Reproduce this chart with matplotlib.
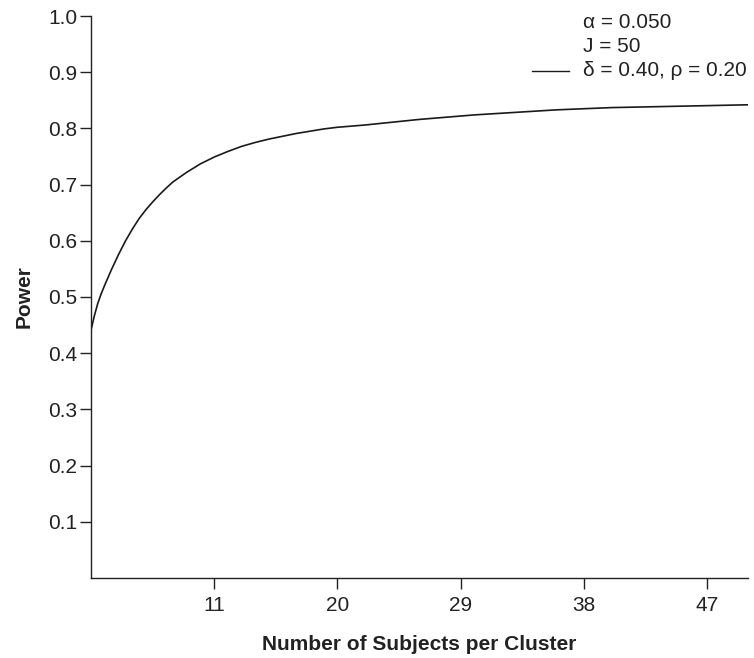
import matplotlib
matplotlib.use("Agg")
import matplotlib.pyplot as plt

# subjects per cluster vs. power
n_per_cluster = [2, 2.25, 2.5, 2.75, 3, 3.5, 4, 4.5, 5, 5.5, 6, 6.5, 7, 7.5, 8, 9, 10,
                 11, 12, 13, 14, 15, 16, 17, 18, 19, 20,
                 22, 24, 26, 28, 30, 32, 34, 36, 38, 40, 42, 44, 46, 48, 50]
power = [0.441, 0.467, 0.489, 0.506, 0.521, 0.549, 0.575, 0.599, 0.620, 0.639, 0.655, 0.669,
         0.682, 0.694, 0.705, 0.722, 0.737,
         0.749, 0.759, 0.768, 0.775, 0.781, 0.786, 0.791, 0.795, 0.799, 0.802,
         0.806, 0.811, 0.816, 0.820, 0.824, 0.827, 0.830, 0.833, 0.835, 0.837, 0.838,
         0.839, 0.840, 0.841, 0.842]

x_ticks = [11, 20, 29, 38, 47]
y_ticks = [0.1, 0.2, 0.3, 0.4, 0.5, 0.6, 0.7, 0.8, 0.9, 1.0]
legend_lines = ["\u03b1 = 0.050", "J = 50", "\u03b4 = 0.40, \u03c1 = 0.20"]

plt.rcParams['font.family'] = ['Liberation Sans', 'DejaVu Sans']
FS = 15

fig = plt.figure(figsize=(7.54, 6.58), dpi=100)
ax = fig.add_axes([91 / 754, 1 - 578 / 658, (748 - 91) / 754, (578 - 16) / 658])

ax.plot(n_per_cluster, power, color='#1a1a1a', lw=1.2)

ax.set_xlim(2, 50)
ax.set_ylim(0, 1.0)
ax.set_xticks(x_ticks)
ax.set_yticks(y_ticks)
ax.set_yticklabels([f"{v:.1f}" for v in y_ticks])

for s in ['top', 'right']:
    ax.spines[s].set_visible(False)
for s in ['left', 'bottom']:
    ax.spines[s].set_color('#222222')
    ax.spines[s].set_linewidth(1.0)

ax.tick_params(axis='both', direction='out', length=8, width=1.0, color='#222222',
               labelsize=FS, labelcolor='#222222')
ax.tick_params(axis='y', pad=2)
ax.tick_params(axis='x', pad=5)

ax.set_xlabel("Number of Subjects per Cluster", fontsize=FS, fontweight='bold',
              color='#222222', labelpad=14)
ax.set_ylabel("Power", fontsize=FS, fontweight='bold', color='#222222', labelpad=10)

# legend block, upper right
for i, txt in enumerate(legend_lines):
    fig.text(583 / 754, 1 - (23 + i * 24) / 658, txt, fontsize=FS, color='#222222',
             ha='left', va='center')
fig.add_artist(plt.Line2D([532 / 754, 569 / 754], [1 - 71 / 658, 1 - 71 / 658],
                          color='#1a1a1a', lw=1.0))

fig.savefig("out.png", dpi=100)
